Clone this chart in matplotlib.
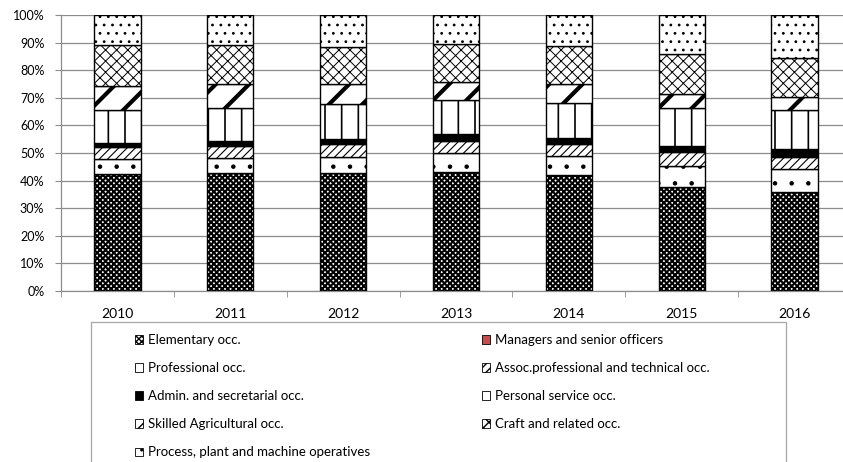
import numpy as np
import matplotlib
matplotlib.use("Agg")
import matplotlib.pyplot as plt
from matplotlib.patches import Patch, Rectangle

#####################################################
# data (share of employment per occupation group, %)
#####################################################

years = ["2010", "2011", "2012", "2013", "2014", "2015", "2016"]

elementary = [42.4, 42.6, 42.6, 43.2, 42.0, 37.6, 35.8]
managers = [0.0, 0.0, 0.0, 0.0, 0.0, 0.0, 0.0]
professional = [5.3, 5.5, 5.8, 6.7, 6.9, 7.8, 8.3]
assoc_professional = [4.4, 4.6, 4.9, 4.6, 4.4, 5.1, 4.6]
admin = [1.6, 1.8, 1.9, 2.3, 2.2, 2.2, 2.7]
personal_service = [11.9, 11.7, 12.4, 12.4, 12.5, 13.5, 14.2]
skilled_agri = [8.7, 8.7, 7.3, 6.7, 7.0, 5.1, 4.6]
craft = [14.8, 14.2, 13.6, 13.5, 13.9, 14.6, 14.3]
process = [10.9, 10.9, 11.5, 10.6, 11.1, 14.1, 15.5]

labels = [
    "Elementary occ.",
    "Managers and senior officers",
    "Professional occ.",
    "Assoc.professional and technical occ.",
    "Admin. and secretarial occ.",
    "Personal service occ.",
    "Skilled Agricultural occ.",
    "Craft and related occ.",
    "Process, plant and machine operatives",
]
series = [
    elementary,
    managers,
    professional,
    assoc_professional,
    admin,
    personal_service,
    skilled_agri,
    craft,
    process,
]

# (facecolor, hatch, hatch linewidth) per group
styles = [
    ("white", "xxxxxx", 1.5),
    ("#C0504D", None, 1.0),
    ("white", ".", 0.8),
    ("white", "////", 0.8),
    ("black", None, 1.0),
    ("white", "|", 1.2),
    ("white", "/", 3.0),
    ("white", "xxx", 0.7),
    ("white", "..", 0.8),
]

plt.rcParams["font.family"] = ["Lato", "DejaVu Sans"]
plt.rcParams["font.size"] = 9

fig = plt.figure(figsize=(8.43, 4.62), dpi=100)
W, H = 843, 462
ax = fig.add_axes([61 / W, 1 - 291 / H, (851 - 61) / W, (291 - 15) / H])

x = np.arange(len(years))
bottom = np.zeros(len(years))
for vals, (fc, hatch, hlw) in zip(series, styles):
    vals = np.array(vals, dtype=float)
    with plt.rc_context({"hatch.linewidth": hlw}):
        ax.bar(
            x,
            vals,
            bottom=bottom,
            width=0.41,
            color=fc,
            edgecolor="black",
            linewidth=1.0,
            hatch=hatch,
            zorder=3,
        )
    bottom += vals

ax.set_ylim(0, 100)
ax.set_xlim(-0.5, len(years) - 0.5)
ax.set_yticks(np.arange(0, 101, 10))
ax.set_yticklabels([f"{v}%" for v in range(0, 101, 10)])
ax.yaxis.grid(True, color="#8c8c8c", linewidth=0.9, zorder=0)

# category labels in the middle, tick marks on the boundaries
ax.set_xticks(x)
ax.set_xticklabels(years, fontsize=10)
ax.set_xticks(np.arange(-0.5, len(years)), minor=True)
ax.tick_params(axis="x", which="major", length=0, pad=12)
ax.tick_params(axis="x", which="minor", length=4, color="#8c8c8c")
ax.tick_params(axis="y", length=4, color="#8c8c8c", pad=8)

for side in ["top", "right"]:
    ax.spines[side].set_visible(False)
for side in ["left", "bottom"]:
    ax.spines[side].set_color("#8c8c8c")
    ax.spines[side].set_linewidth(0.9)

# legend in two columns inside a plain grey box
handles = []
for (fc, hatch, hlw), lab in zip(styles, labels):
    handles.append(Patch(facecolor=fc, edgecolor="black", hatch=hatch, linewidth=0.6, label=lab))

legend_kw = dict(
    frameon=False,
    loc="upper left",
    borderpad=0,
    borderaxespad=0,
    handlelength=0.6,
    handleheight=0.6,
    handletextpad=0.4,
    labelspacing=1.22,
    fontsize=9.5,
)
fig.legend(handles=handles[0::2], bbox_to_anchor=(135 / W, 1 - 334 / H), **legend_kw)
fig.legend(handles=handles[1::2], bbox_to_anchor=(482 / W, 1 - 334 / H), **legend_kw)

fig.add_artist(
    Rectangle(
        (91 / W, 1 - 500 / H),
        (786 - 91) / W,
        (500 - 322) / H,
        transform=fig.transFigure,
        facecolor="none",
        edgecolor="#a6a6a6",
        linewidth=0.9,
    )
)

plt.savefig("out.png", dpi=100)
plt.close()
